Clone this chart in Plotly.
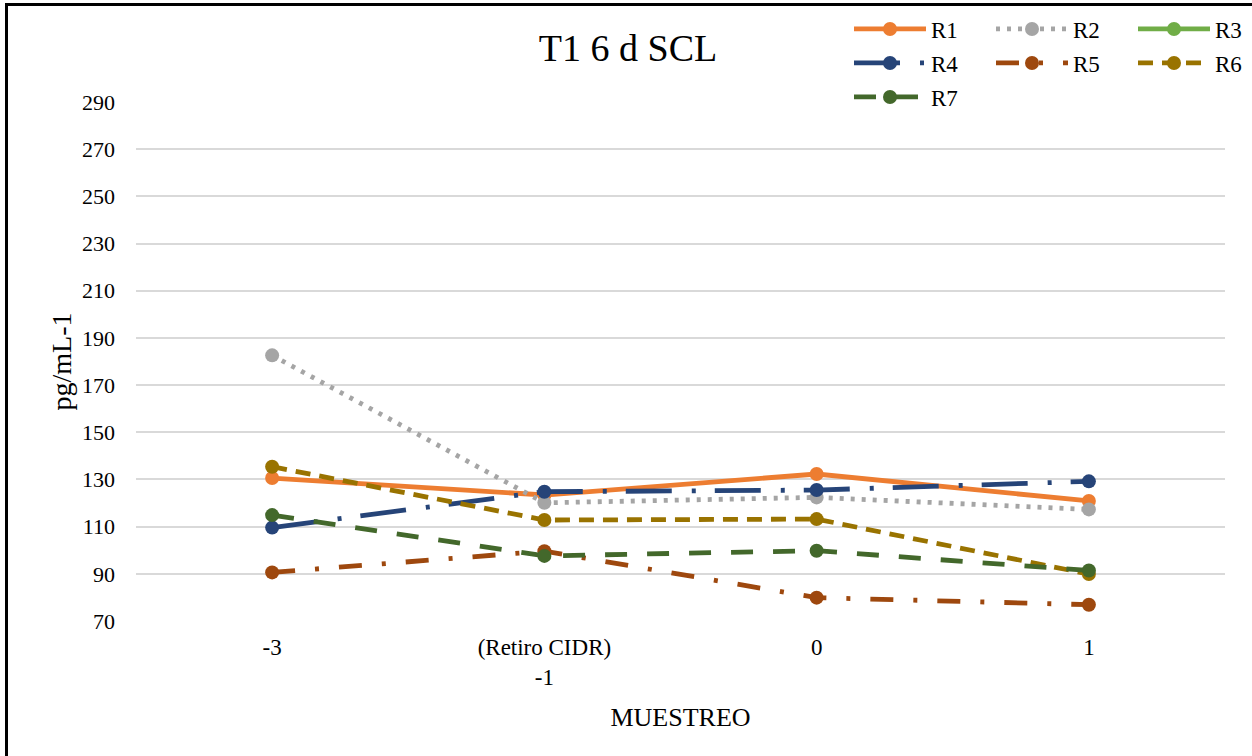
import plotly.graph_objects as go

# Sampling points (x categories)
muestreo = ["-3", "(Retiro CIDR)<br>-1", "0", "1"]

# Concentrations (pg/mL-1) per animal
r1 = [130.6, 123.4, 132.3, 120.9]
r2 = [182.6, 120.1, 122.4, 117.3]
r3 = [None, None, None, None]
r4 = [109.6, 124.8, 125.5, 129.2]
r5 = [90.6, 99.6, 79.9, 76.9]
r6 = [135.4, 112.8, 113.2, 89.9]
r7 = [114.9, 97.6, 99.8, 91.4]

y_ticks = [70, 90, 110, 130, 150, 170, 190, 210, 230, 250, 270, 290]

FONT = "Liberation Serif, Times New Roman, serif"
W, H = 1252, 756
ML, MR, MT, MB = 136, 27, 102, 135

series = [
    ("R1", r1, "#ED7D31", "solid", "legend"),
    ("R2", r2, "#A5A5A5", "4px,7px", "legend"),
    ("R3", r3, "#70AD47", "solid", "legend"),
    ("R4", r4, "#264478", "46px,20px,4px,19px", "legend2"),
    ("R5", r5, "#9E480E", "23px,20px,4px,20px", "legend2"),
    ("R6", r6, "#997300", "15px,9px", "legend2"),
    ("R7", r7, "#43682B", "22px,20px", "legend3"),
]

fig = go.Figure()
for name, vals, color, dash, leg in series:
    fig.add_trace(go.Scatter(
        x=muestreo, y=vals, name=name, mode="lines+markers",
        line=dict(color=color, width=4.8, dash=dash),
        marker=dict(color=color, size=14),
        legend=leg,
    ))

pw = W - ML - MR
ph = H - MT - MB


def px_to_paper_x(px):
    return (px - ML) / pw


def px_to_paper_y(py):
    return (H - MB - py) / ph


legend_common = dict(
    orientation="h", xanchor="left", yanchor="middle",
    x=px_to_paper_x(849), font=dict(family=FONT, size=23, color="#000000"),
    bgcolor="rgba(0,0,0,0)", itemwidth=72, entrywidth=55,
    entrywidthmode="pixels",
)

fig.update_layout(
    width=W, height=H,
    margin=dict(l=ML, r=MR, t=MT, b=MB, autoexpand=False),
    paper_bgcolor="white", plot_bgcolor="white",
    font=dict(family=FONT, color="#000000"),
    title=dict(text="T1 6 d SCL", x=628 / W, xref="container", xanchor="center",
               y=1 - 48 / H, yref="container", yanchor="middle",
               font=dict(family=FONT, size=38, color="#000000")),
    xaxis=dict(
        type="category", range=[-0.5, 3.5], showgrid=False, zeroline=False,
        showline=False, tickfont=dict(family=FONT, size=23, color="#000000"),
        ticks="", ticklabelstandoff=10,
        title=dict(text="MUESTREO", font=dict(family=FONT, size=26, color="#000000"),
                   standoff=18),
    ),
    yaxis=dict(
        range=[70, 290], tickvals=y_ticks, showgrid=True, gridcolor="#D9D9D9",
        gridwidth=1.5, zeroline=False, showline=False,
        tickfont=dict(family=FONT, size=22, color="#000000"), ticks="",
        ticklabelstandoff=20,
        title=dict(text="pg/mL-1", font=dict(family=FONT, size=28, color="#000000"),
                   standoff=2),
    ),
    legend=dict(legend_common, y=px_to_paper_y(29)),
    legend2=dict(legend_common, y=px_to_paper_y(63)),
    legend3=dict(legend_common, y=px_to_paper_y(97)),
    showlegend=True,
)

# Outer chart frame
fig.add_shape(type="rect", xref="paper", yref="paper",
              x0=px_to_paper_x(6.5), x1=px_to_paper_x(W + 20),
              y0=px_to_paper_y(H + 20), y1=px_to_paper_y(4.5),
              line=dict(color="#000000", width=3), fillcolor="rgba(0,0,0,0)",
              layer="above")

fig.write_html("out.html")
